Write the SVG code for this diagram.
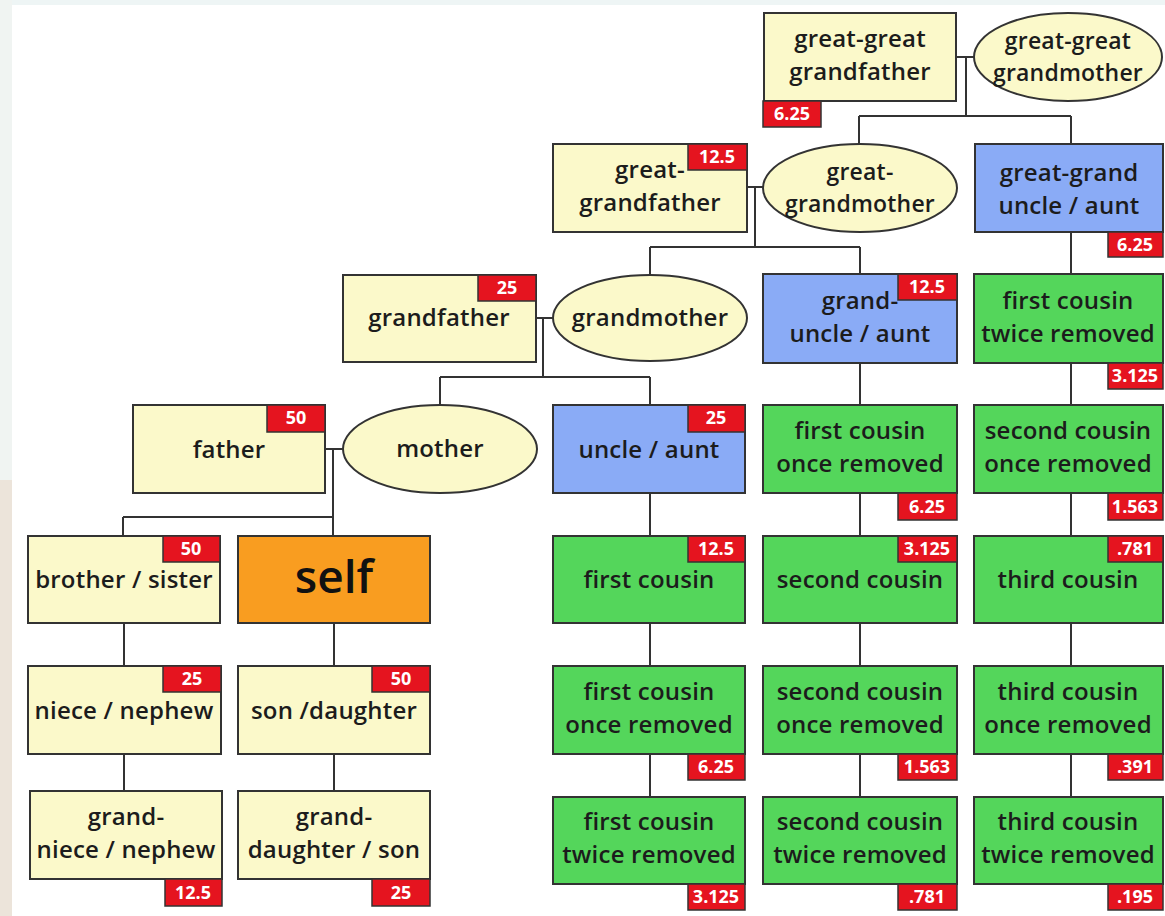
<svg xmlns="http://www.w3.org/2000/svg" width="1165" height="916" viewBox="0 0 1165 916">
<style>
.y{fill:#fbf9ca;stroke:#333;stroke-width:2}
.b{fill:#8aabf6;stroke:#333;stroke-width:2}
.g{fill:#54d65b;stroke:#333;stroke-width:2}
.o{fill:#f99d20;stroke:#333;stroke-width:2}
.r{fill:#e5141f;stroke:#333;stroke-width:1.5}
.t{font-family:"Open Sans","Liberation Sans",sans-serif;font-weight:600;font-size:24px;letter-spacing:0.2px;fill:#1c1c1c;text-anchor:middle}
.e{font-size:23px}
.n{font-family:"Open Sans","Liberation Sans",sans-serif;font-weight:700;font-size:18px;fill:#fff;text-anchor:middle}
.c{fill:none;stroke:#333;stroke-width:2}
</style>
<rect x="0" y="0" width="1165" height="916" fill="#fff"/>
<rect x="0" y="0" width="1165" height="5" fill="#eef5f5"/>
<rect x="0" y="0" width="12" height="480" fill="#f0f4f2"/>
<rect x="0" y="480" width="12" height="436" fill="#ece4da"/>
<g id="connectors" class="c">
<path d="M956,57H974M966,57V116M859,116H1071M859,116V144M1071,116V144"/>
<path d="M747,187H763M755,187V247M650,247H860M650,247V274M860,247V274"/>
<path d="M536,318H553M543,318V377M440,377H650M440,377V405M650,377V405"/>
<path d="M325,449H343M333,449V536M123,517H333M123,517V536"/>
<path d="M124,623V666M124,754V791M334,623V666M334,754V791"/>
<path d="M650,493V536M650,623V666M650,754V797"/>
<path d="M860,363V405M860,493V536M860,623V666M860,754V797"/>
<path d="M1071,232V274M1071,363V405M1071,493V536M1071,623V666M1071,754V797"/>
</g>
<g id="gg-grandfather"><rect class="y" x="764" y="13" width="192" height="88"/><text class="t" x="860" y="47">great-great</text><text class="t" x="860" y="80">grandfather</text><rect class="r" x="763" y="101" width="58" height="26"/><text class="n" x="792" y="120">6.25</text></g>
<g id="gg-grandmother"><ellipse class="y" cx="1068" cy="57" rx="94" ry="44"/><text class="t e" x="1068" y="49">great-great</text><text class="t e" x="1068" y="81">grandmother</text></g>
<g id="g-grandfather"><rect class="y" x="553" y="144" width="194" height="88"/><text class="t" x="650" y="178">great-</text><text class="t" x="650" y="211">grandfather</text><rect class="r" x="688" y="144" width="59" height="26"/><text class="n" x="717" y="163">12.5</text></g>
<g id="g-grandmother"><ellipse class="y" cx="860" cy="188" rx="97" ry="44"/><text class="t e" x="860" y="180">great-</text><text class="t e" x="860" y="212">grandmother</text></g>
<g id="gg-uncle"><rect class="b" x="975" y="144" width="188" height="88"/><text class="t" x="1069" y="181">great-grand</text><text class="t" x="1069" y="214">uncle / aunt</text><rect class="r" x="1108" y="232" width="55" height="25"/><text class="n" x="1135" y="251">6.25</text></g>
<g id="grandfather"><rect class="y" x="343" y="275" width="193" height="87"/><text class="t" x="439" y="326">grandfather</text><rect class="r" x="478" y="275" width="58" height="26"/><text class="n" x="507" y="294">25</text></g>
<g id="grandmother"><ellipse class="y" cx="650" cy="318" rx="97" ry="43"/><text class="t" x="650" y="326">grandmother</text></g>
<g id="grand-uncle"><rect class="b" x="763" y="274" width="194" height="89"/><text class="t" x="860" y="309">grand-</text><text class="t" x="860" y="342">uncle / aunt</text><rect class="r" x="898" y="274" width="59" height="26"/><text class="n" x="927" y="293">12.5</text></g>
<g id="first-cousin-2r-top"><rect class="g" x="974" y="274" width="189" height="89"/><text class="t" x="1068" y="309">first cousin</text><text class="t" x="1068" y="342">twice removed</text><rect class="r" x="1108" y="363" width="55" height="26"/><text class="n" x="1135" y="382">3.125</text></g>
<g id="father"><rect class="y" x="133" y="405" width="192" height="88"/><text class="t" x="229" y="458">father</text><rect class="r" x="267" y="405" width="58" height="27"/><text class="n" x="296" y="424">50</text></g>
<g id="mother"><ellipse class="y" cx="440" cy="449" rx="97" ry="44"/><text class="t" x="440" y="457">mother</text></g>
<g id="uncle-aunt"><rect class="b" x="553" y="405" width="192" height="88"/><text class="t" x="649" y="458">uncle / aunt</text><rect class="r" x="688" y="405" width="57" height="27"/><text class="n" x="716" y="424">25</text></g>
<g id="first-cousin-1r-top"><rect class="g" x="763" y="405" width="194" height="88"/><text class="t" x="860" y="439">first cousin</text><text class="t" x="860" y="472">once removed</text><rect class="r" x="898" y="493" width="59" height="27"/><text class="n" x="927" y="513">6.25</text></g>
<g id="second-cousin-1r-top"><rect class="g" x="974" y="405" width="189" height="88"/><text class="t" x="1068" y="439">second cousin</text><text class="t" x="1068" y="472">once removed</text><rect class="r" x="1108" y="493" width="55" height="27"/><text class="n" x="1135" y="513">1.563</text></g>
<g id="brother-sister"><rect class="y" x="28" y="536" width="192" height="87"/><text class="t" x="124" y="588">brother / sister</text><rect class="r" x="163" y="536" width="57" height="26"/><text class="n" x="191" y="555">50</text></g>
<g id="self"><rect class="o" x="238" y="536" width="192" height="87"/><text x="334" y="593" font-family="Open Sans, Liberation Sans, sans-serif" font-weight="600" font-size="46" fill="#111" text-anchor="middle">self</text></g>
<g id="first-cousin"><rect class="g" x="553" y="536" width="192" height="87"/><text class="t" x="649" y="588">first cousin</text><rect class="r" x="688" y="536" width="57" height="26"/><text class="n" x="716" y="555">12.5</text></g>
<g id="second-cousin"><rect class="g" x="763" y="536" width="194" height="87"/><text class="t" x="860" y="588">second cousin</text><rect class="r" x="898" y="536" width="59" height="26"/><text class="n" x="927" y="555">3.125</text></g>
<g id="third-cousin"><rect class="g" x="974" y="536" width="189" height="87"/><text class="t" x="1068" y="588">third cousin</text><rect class="r" x="1108" y="536" width="55" height="26"/><text class="n" x="1135" y="555">.781</text></g>
<g id="niece-nephew"><rect class="y" x="28" y="666" width="193" height="88"/><text class="t" x="124" y="719">niece / nephew</text><rect class="r" x="163" y="666" width="58" height="26"/><text class="n" x="192" y="685">25</text></g>
<g id="son-daughter"><rect class="y" x="238" y="666" width="192" height="88"/><text class="t" x="334" y="719">son /daughter</text><rect class="r" x="372" y="666" width="58" height="26"/><text class="n" x="401" y="685">50</text></g>
<g id="first-cousin-1r"><rect class="g" x="553" y="666" width="192" height="88"/><text class="t" x="649" y="700">first cousin</text><text class="t" x="649" y="733">once removed</text><rect class="r" x="688" y="754" width="57" height="26"/><text class="n" x="716" y="773">6.25</text></g>
<g id="second-cousin-1r"><rect class="g" x="763" y="666" width="194" height="88"/><text class="t" x="860" y="700">second cousin</text><text class="t" x="860" y="733">once removed</text><rect class="r" x="898" y="754" width="59" height="26"/><text class="n" x="927" y="773">1.563</text></g>
<g id="third-cousin-1r"><rect class="g" x="974" y="666" width="189" height="88"/><text class="t" x="1068" y="700">third cousin</text><text class="t" x="1068" y="733">once removed</text><rect class="r" x="1108" y="754" width="55" height="26"/><text class="n" x="1135" y="773">.391</text></g>
<g id="grand-niece"><rect class="y" x="30" y="791" width="192" height="88"/><text class="t" x="126" y="825">grand-</text><text class="t" x="126" y="858">niece / nephew</text><rect class="r" x="165" y="879" width="57" height="27"/><text class="n" x="193" y="899">12.5</text></g>
<g id="grand-daughter"><rect class="y" x="238" y="791" width="192" height="88"/><text class="t" x="334" y="825">grand-</text><text class="t" x="334" y="858">daughter / son</text><rect class="r" x="372" y="879" width="58" height="27"/><text class="n" x="401" y="899">25</text></g>
<g id="first-cousin-2r"><rect class="g" x="553" y="797" width="192" height="87"/><text class="t" x="649" y="830">first cousin</text><text class="t" x="649" y="863">twice removed</text><rect class="r" x="688" y="884" width="57" height="26"/><text class="n" x="716" y="903">3.125</text></g>
<g id="second-cousin-2r"><rect class="g" x="763" y="797" width="194" height="87"/><text class="t" x="860" y="830">second cousin</text><text class="t" x="860" y="863">twice removed</text><rect class="r" x="898" y="884" width="59" height="26"/><text class="n" x="927" y="903">.781</text></g>
<g id="third-cousin-2r"><rect class="g" x="974" y="797" width="189" height="87"/><text class="t" x="1068" y="830">third cousin</text><text class="t" x="1068" y="863">twice removed</text><rect class="r" x="1108" y="884" width="55" height="26"/><text class="n" x="1135" y="903">.195</text></g>
</svg>
